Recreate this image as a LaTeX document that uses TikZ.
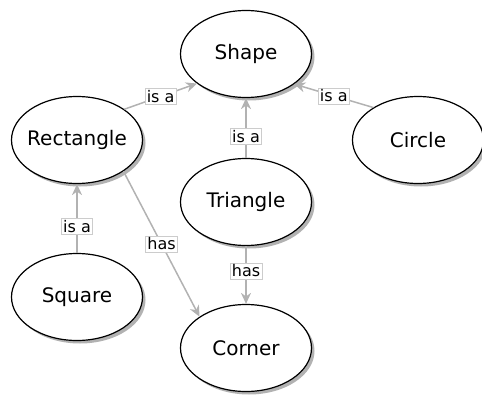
\documentclass[tikz,border=0pt]{standalone}
\usepackage{fontspec}
\setmainfont{DejaVu Sans}
\usetikzlibrary{arrows.meta, shapes.geometric, shadows}

\tikzset{
  concept/.style={ellipse, draw=black, line width=1.2pt, fill=white,
    minimum width=131pt, minimum height=87pt, inner xsep=-6pt, inner ysep=0pt,
    font=\fontsize{20}{24}\selectfont,
    drop shadow={shadow xshift=3pt, shadow yshift=-3pt, fill=black!30, opacity=1}},
  relation/.style={draw=black!30, line width=1.5pt,
    -{Stealth[length=11pt, width=10pt, inset=3.5pt]}},
  tag/.style={draw=black!20, fill=white, line width=0.6pt, inner sep=1.8pt,
    font=\fontsize{16}{18}\selectfont}
}

\begin{document}
\begin{tikzpicture}[x=1pt,y=-1pt]
\useasboundingbox (0,0) rectangle (482,396);

\node[concept] (shape) at (246,54) {Shape};
\node[concept] (rect) at (77,140) {Rectangle};
\node[concept] (circle) at (418,140) {Circle};
\node[concept] (tri) at (246,202) {Triangle};
\node[concept] (square) at (77,297) {Square};
\node[concept] (corner) at (246,348) {Corner};

\draw[relation] (rect.33.7) -- node[tag] (isa1) {is a} (shape.211.5);
\draw[relation] (circle.144.6) -- node[tag] (isa2) {is a} (shape.328.7);
\draw[relation] (tri.north) -- node[tag, pos=0.36] (isa3) {is a} (shape.south);
\draw[relation] (square.north) -- node[tag, pos=0.39] (isa4) {is a} (rect.south);
\draw[relation] (rect.-34.8) -- node[tag] (has1) {has} (corner.146.6);
\draw[relation] (tri.south) -- node[tag, pos=0.43] (has2) {has} (corner.north);
\end{tikzpicture}
\end{document}
